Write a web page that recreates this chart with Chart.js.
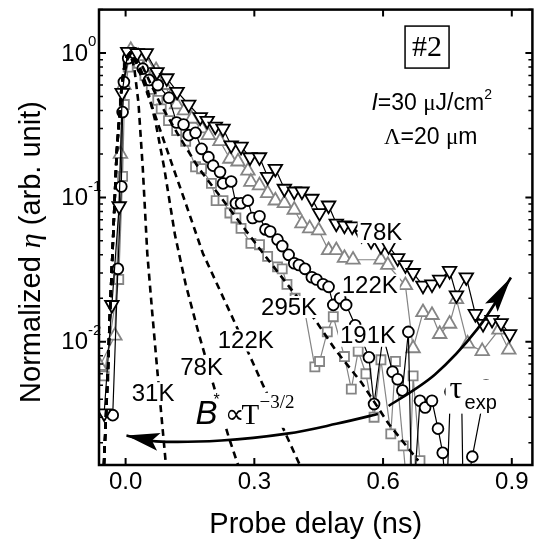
<!DOCTYPE html>
<html><head><meta charset="utf-8">
<script src="https://cdn.jsdelivr.net/npm/chart.js@4"></script>
<style>html,body{margin:0;padding:0;background:#fff}#wrap{width:542px;height:547px}</style>
</head><body><div id="wrap"><canvas id="c" width="542" height="547"></canvas></div>
<script>
// ---------- data ----------
const xTicks = [0, 0.3, 0.6, 0.9];
const yMajorTicks = [0.01, 0.1, 1];
const yTickExponents = ['-2', '-1', '0'];

// 78K, inverted triangles (black)
const t78 = [-0.050,-0.032,-0.015,-0.008,0.005,0.027,0.048,0.073,0.096,0.12,0.147,0.174,0.19,0.209,0.227,0.246,0.269,0.29,0.312,0.331,0.349,0.37,0.393,0.411,0.434,0.452,0.473,0.491,0.51,0.528,0.55,0.572,0.595,0.613,0.634,0.652,0.67,0.693,0.714,0.732,0.755,0.771,0.794,0.815,0.833,0.854,0.875,0.895];
const v78 = [0.0032,0.018,0.087,0.53,1.02,1.0,1.0,0.74,0.67,0.54,0.44,0.36,0.34,0.31,0.30,0.23,0.225,0.19,0.19,0.139,0.158,0.115,0.11,0.11,0.098,0.078,0.088,0.066,0.064,0.063,0.055,0.05,0.046,0.046,0.038,0.034,0.030,0.0245,0.025,0.027,0.031,0.021,0.028,0.0156,0.0133,0.0142,0.0135,0.0113];

// 122K, triangles (gray)
const t122 = [-0.06,-0.025,-0.012,-0.004,0.012,0.03,0.05,0.071,0.09,0.106,0.119,0.137,0.154,0.177,0.193,0.22,0.243,0.262,0.285,0.292,0.312,0.331,0.349,0.37,0.393,0.411,0.429,0.45,0.473,0.491,0.51,0.53,0.595,0.611,0.652,0.67,0.693,0.714,0.732,0.755,0.771,0.797,0.831,0.87,0.893];
const v122 = [0.0068,0.011,0.2,0.6,1.05,0.95,0.83,0.76,0.6,0.5,0.44,0.4,0.35,0.30,0.27,0.245,0.185,0.177,0.153,0.128,0.121,0.107,0.095,0.091,0.082,0.066,0.061,0.059,0.043,0.043,0.038,0.037,0.037,0.034,0.0246,0.009,0.016,0.0153,0.0113,0.0133,0.0197,0.0097,0.0086,0.0121,0.0088];

// 191K, circles (black)
const t191 = [-0.03,-0.018,-0.01,-0.007,-0.004,0.006,0.02,0.04,0.055,0.075,0.101,0.119,0.135,0.147,0.163,0.177,0.193,0.204,0.22,0.227,0.246,0.257,0.269,0.285,0.296,0.312,0.326,0.337,0.354,0.365,0.38,0.393,0.404,0.418,0.434,0.445,0.46,0.473,0.484,0.5,0.514,0.535,0.55,0.567,0.579,0.6,0.622,0.634,0.645,0.659,0.668,0.686,0.698,0.714,0.728,0.739,0.748,0.757,0.783,0.787,0.808,0.84];
const v191 = [0.0031,0.032,0.119,0.39,0.63,0.92,1.0,0.78,0.65,0.6,0.49,0.33,0.32,0.27,0.28,0.217,0.19,0.166,0.15,0.125,0.129,0.091,0.091,0.095,0.072,0.074,0.06,0.058,0.051,0.046,0.04,0.035,0.034,0.032,0.028,0.027,0.025,0.024,0.018,0.02,0.018,0.013,0.0105,0.0078,0.0037,0.011,0.0062,0.0055,0.0046,0.0117,0.0006,0.0039,0.0035,0.0039,0.0025,0.0017,0.0008,0.0045,0.0045,0.0007,0.0016,0.005];

// 295K, squares (gray)
const t295 = [-0.05,-0.016,-0.007,-0.003,0.006,0.016,0.03,0.045,0.06,0.075,0.083,0.1,0.119,0.14,0.163,0.177,0.2,0.211,0.227,0.243,0.257,0.269,0.292,0.312,0.331,0.354,0.365,0.376,0.395,0.418,0.441,0.452,0.47,0.484,0.51,0.526,0.542,0.56,0.579,0.595,0.618,0.629,0.647,0.66,0.67,0.686,0.7];
const v295 = [0.0058,0.027,0.14,0.44,0.8,1.0,0.85,0.7,0.56,0.47,0.41,0.34,0.29,0.245,0.163,0.158,0.125,0.095,0.095,0.078,0.072,0.061,0.048,0.047,0.039,0.033,0.032,0.025,0.02,0.016,0.0067,0.0073,0.0117,0.0149,0.0079,0.0047,0.0086,0.006,0.003,0.0075,0.0023,0.0073,0.0019,0.0007,0.0058,0.0015,0.0006];

// model curves (dashed): common rise + decays
const riseT = [-0.0505,-0.041,-0.037,-0.021,-0.009,0.0];
const riseV = [0.0014,0.0065,0.0144,0.2,0.6,0.92];
const fit31T = [0.01,0.02,0.03,0.04,0.0505,0.062,0.0735,0.094];
const fit31V = [1.0,0.8,0.45,0.16,0.041,0.016,0.0065,0.0014];
const fit78T = [0.01,0.03,0.05,0.07,0.09,0.115,0.14,0.17,0.204,0.24,0.262];
const fit78V = [1.0,0.85,0.58,0.33,0.16,0.055,0.025,0.0115,0.0051,0.0022,0.0014];
const fit122T = [0.01,0.025,0.044,0.073,0.108,0.14,0.18,0.25,0.319,0.36,0.406];
const fit122V = [1.0,0.85,0.6,0.34,0.17,0.091,0.041,0.0145,0.0051,0.0028,0.0014];
const fit295T = [0.01,0.04,0.08,0.12,0.17,0.24,0.31,0.36,0.44,0.49,0.55,0.613,0.682];
const fit295V = [1.0,0.8,0.45,0.28,0.16,0.085,0.045,0.029,0.0144,0.0087,0.0052,0.0027,0.0015];

// annotation labels (text, anchor in data units)
const labelText = ['78K','122K','191K','295K','122K','78K','31K'];
const labelX = [0.595,0.569,0.565,0.381,0.28,0.177,0.064];
const labelY = [0.0575,0.0246,0.011,0.0174,0.0102,0.00664,0.0044];

// curved arrows (data units)
const arrowLeftX = [0.588,0.491,0.376,0.223,0.071,0.002];
const arrowLeftY = [0.00316,0.0027,0.00231,0.00207,0.00204,0.00224];
const arrowRightX = [0.613,0.721,0.82,0.898];
const arrowRightY = [0.00359,0.00594,0.01227,0.0279];

// ---------- styles ----------
const SANS = "'Liberation Sans', Arial, Helvetica, sans-serif";
const SERIF = "'Liberation Serif', 'Times New Roman', serif";
const GRAY = '#858585';
const INK = '#000000';

const xy = (ts, vs) => ts.map((t, i) => ({x: t, y: vs[i]}));
const dashedSet = (ft, fv) => ({
  data: xy(riseT.concat(ft), riseV.concat(fv)),
  showLine: true, borderColor: INK, borderWidth: 2.6, borderDash: [7, 5],
  pointRadius: 0, tension: 0
});
const markerSet = (ts, vs, color, style, r, rot) => ({
  data: xy(ts, vs), showLine: true, borderColor: color, borderWidth: 1.2, tension: 0,
  pointStyle: style, pointRadius: r, rotation: rot, pointBorderColor: color,
  pointBackgroundColor: '#ffffff', pointBorderWidth: 1.8
});

function smoothPath(ctx, pts) {
  ctx.beginPath();
  ctx.moveTo(pts[0][0], pts[0][1]);
  for (let i = 0; i < pts.length - 1; i++) {
    const p0 = pts[Math.max(0, i - 1)], p1 = pts[i], p2 = pts[i + 1], p3 = pts[Math.min(pts.length - 1, i + 2)];
    const c1 = [p1[0] + (p2[0] - p0[0]) / 6, p1[1] + (p2[1] - p0[1]) / 6];
    const c2 = [p2[0] - (p3[0] - p1[0]) / 6, p2[1] - (p3[1] - p1[1]) / 6];
    ctx.bezierCurveTo(c1[0], c1[1], c2[0], c2[1], p2[0], p2[1]);
  }
  ctx.stroke();
}
function arrowHead(ctx, from, tip, L, W, N) {
  let dx = tip[0] - from[0], dy = tip[1] - from[1];
  const d = Math.hypot(dx, dy); dx /= d; dy /= d;
  const nx = -dy, ny = dx;
  ctx.beginPath();
  ctx.moveTo(tip[0], tip[1]);
  ctx.lineTo(tip[0] - dx * L + nx * W, tip[1] - dy * L + ny * W);
  ctx.lineTo(tip[0] - dx * (L - N), tip[1] - dy * (L - N));
  ctx.lineTo(tip[0] - dx * L - nx * W, tip[1] - dy * L - ny * W);
  ctx.closePath();
  ctx.fill();
}
function boxText(ctx, text, cx, cy, font) {
  ctx.font = font;
  const w = ctx.measureText(text).width;
  ctx.fillStyle = '#fff';
  ctx.fillRect(cx - w / 2 - 2, cy - 11, w + 4, 22);
  ctx.fillStyle = INK;
  ctx.textAlign = 'center';
  ctx.textBaseline = 'middle';
  ctx.fillText(text, cx, cy + 1);
}

const decor = {
  id: 'decor',
  afterDatasetsDraw(chart) {
    const {ctx, chartArea: a, scales: {x, y}} = chart;
    const P = (xv, yv) => [x.getPixelForValue(xv), y.getPixelForValue(yv)];
    ctx.save();
    ctx.beginPath(); ctx.rect(a.left, a.top, a.right - a.left, a.bottom - a.top); ctx.clip();

    // temperature labels
    labelText.forEach((t, i) => {
      const [px, py] = P(labelX[i], labelY[i]);
      boxText(ctx, t, px, py, '24px ' + SANS);
    });

    // B* ∝ T^-3/2
    const [bx, by] = P(0.163, 0.0027);
    ctx.fillStyle = '#fff';
    ctx.fillRect(bx - 2, by - 31, 110, 35);
    ctx.fillStyle = INK; ctx.textBaseline = 'alphabetic'; ctx.textAlign = 'left';
    ctx.font = 'italic 33px ' + SANS; ctx.fillText('B', bx, by);
    ctx.font = '16px ' + SANS; ctx.fillText('*', bx + 18, by - 19);
    ctx.font = '27px ' + SERIF; ctx.fillText('\u221D', bx + 29, by - 1);
    ctx.font = '29px ' + SERIF; ctx.fillText('T', bx + 46, by);
    ctx.font = '19px ' + SERIF; ctx.fillText('\u22123/2', bx + 64, by - 16);

    // tau_exp
    const [tx, ty] = P(0.755, 0.0041);
    ctx.fillStyle = '#fff';
    ctx.fillRect(tx - 4, ty - 18, 54, 34);
    ctx.fillStyle = INK;
    ctx.font = '32px ' + SERIF; ctx.fillText('\u03C4', tx, ty);
    ctx.font = '20px ' + SANS; ctx.fillText('exp', tx + 15, ty + 11);

    // arrows
    ctx.strokeStyle = INK; ctx.fillStyle = INK; ctx.lineWidth = 2.6;
    const la = arrowLeftX.map((v, i) => P(v, arrowLeftY[i]));
    smoothPath(ctx, la);
    arrowHead(ctx, la[la.length - 2], la[la.length - 1], 33, 9, 7);
    const ra = arrowRightX.map((v, i) => P(v, arrowRightY[i]));
    smoothPath(ctx, ra);
    arrowHead(ctx, ra[ra.length - 2], ra[ra.length - 1], 36, 7.5, 6);

    // #2 box
    const [hx, hy] = P(0.7025, 1.1);
    ctx.fillStyle = '#fff';
    ctx.fillRect(hx - 22, hy - 21, 44, 42);
    ctx.strokeStyle = INK; ctx.lineWidth = 1.5;
    ctx.strokeRect(hx - 22, hy - 21, 44, 42);
    ctx.fillStyle = INK; ctx.textAlign = 'center'; ctx.textBaseline = 'middle';
    ctx.font = '30px ' + SERIF; ctx.fillText('#2', hx, hy + 1);

    // I = 30 uJ/cm2
    const [ix, iy] = P(0.573, 0.4);
    ctx.textAlign = 'left'; ctx.textBaseline = 'alphabetic';
    let cx = ix;
    const seg = (txt, font, dy) => { ctx.font = font; ctx.fillText(txt, cx, iy + (dy || 0)); cx += ctx.measureText(txt).width; };
    seg('I', 'italic 23px ' + SANS);
    seg('=30 ', '23px ' + SANS);
    seg('\u03BC', '23px ' + SERIF);
    seg('J/cm', '23px ' + SANS);
    seg('2', '14px ' + SANS, -11);
    // Lambda = 20 um
    const [lx, ly] = P(0.602, 0.233);
    cx = lx;
    const seg2 = (txt, font) => { ctx.font = font; ctx.fillText(txt, cx, ly); cx += ctx.measureText(txt).width; };
    seg2('\u039B', '23px ' + SERIF);
    seg2('=20 ', '23px ' + SANS);
    seg2('\u03BC', '23px ' + SERIF);
    seg2('m', '23px ' + SANS);
    ctx.restore();
  },
  afterDraw(chart) {
    const {ctx, chartArea: a, scales: {x, y}} = chart;
    ctx.save();
    ctx.strokeStyle = INK;
    // ticks
    ctx.lineWidth = 2;
    ctx.beginPath();
    xTicks.forEach(v => {
      const px = x.getPixelForValue(v);
      ctx.moveTo(px, a.bottom); ctx.lineTo(px, a.bottom - 7);
      ctx.moveTo(px, a.top); ctx.lineTo(px, a.top + 7);
    });
    yMajorTicks.forEach(v => {
      const py = y.getPixelForValue(v);
      ctx.moveTo(a.left, py); ctx.lineTo(a.left + 7, py);
      ctx.moveTo(a.right, py); ctx.lineTo(a.right - 7, py);
    });
    ctx.stroke();
    ctx.lineWidth = 1.5;
    ctx.beginPath();
    [0.001, 0.01, 0.1, 1].forEach(dec => {
      for (let m = 2; m <= 9; m++) {
        const v = dec * m;
        if (v < y.min || v > y.max) continue;
        const py = y.getPixelForValue(v);
        ctx.moveTo(a.left, py); ctx.lineTo(a.left + 4, py);
        ctx.moveTo(a.right, py); ctx.lineTo(a.right - 4, py);
      }
    });
    ctx.stroke();
    // frame
    ctx.lineWidth = 2.5;
    ctx.strokeRect(a.left, a.top, a.right - a.left, a.bottom - a.top);

    // y tick labels
    ctx.fillStyle = INK;
    yMajorTicks.forEach((v, i) => {
      const py = y.getPixelForValue(v);
      ctx.textBaseline = 'middle';
      ctx.textAlign = 'right';
      ctx.font = '24px ' + SANS;
      ctx.fillText('10', 88, py + 1);
      ctx.textAlign = 'left';
      ctx.font = '15px ' + SANS;
      ctx.fillText(yTickExponents[i], 88, py - 11);
    });

    // y title
    ctx.translate(30, 252);
    ctx.rotate(-Math.PI / 2);
    const parts = [['Normalized ', '29px ' + SANS], ['\u03B7', 'italic 30px ' + SERIF], [' (arb. unit)', '29px ' + SANS]];
    let total = 0;
    parts.forEach(p => { ctx.font = p[1]; total += ctx.measureText(p[0]).width; });
    let sx = -total / 2;
    ctx.textAlign = 'left'; ctx.textBaseline = 'alphabetic';
    parts.forEach(p => { ctx.font = p[1]; ctx.fillText(p[0], sx, 10); sx += ctx.measureText(p[0]).width; });
    ctx.restore();
  }
};

new Chart(document.getElementById('c'), {
  type: 'scatter',
  data: {
    datasets: [
      dashedSet(fit31T, fit31V),
      dashedSet(fit78T, fit78V),
      dashedSet(fit122T, fit122V),
      dashedSet(fit295T, fit295V),
      markerSet(t78, v78, INK, 'triangle', 7.8, 180),
      markerSet(t191, v191, INK, 'circle', 5.4, 0),
      markerSet(t122, v122, GRAY, 'triangle', 7.8, 0),
      markerSet(t295, v295, GRAY, 'rect', 6.4, 0)
    ]
  },
  options: {
    responsive: false,
    animation: false,
    devicePixelRatio: 1,
    layout: {padding: {top: 4, right: 3, left: 0, bottom: 0}},
    plugins: {legend: {display: false}, tooltip: {enabled: false}},
    scales: {
      x: {
        type: 'linear', min: -0.062, max: 0.948,
        afterBuildTicks: s => { s.ticks = xTicks.map(v => ({value: v})); },
        afterFit: s => { s.height = 82; },
        grid: {display: false, drawTicks: false},
        border: {display: false},
        ticks: {
          callback: v => Number(v).toFixed(1),
          font: {family: SANS, size: 24}, color: INK, padding: 3,
          maxRotation: 0, autoSkip: false
        },
        title: {display: true, text: 'Probe delay (ns)', font: {family: SANS, size: 29}, color: INK, padding: {top: 0, bottom: 5}}
      },
      y: {
        type: 'logarithmic', min: 0.0014, max: 2.0,
        afterFit: s => { s.width = 99; },
        grid: {display: false, drawTicks: false},
        border: {display: false},
        ticks: {display: false}
      }
    }
  },
  plugins: [decor]
});
</script>
</body></html>
